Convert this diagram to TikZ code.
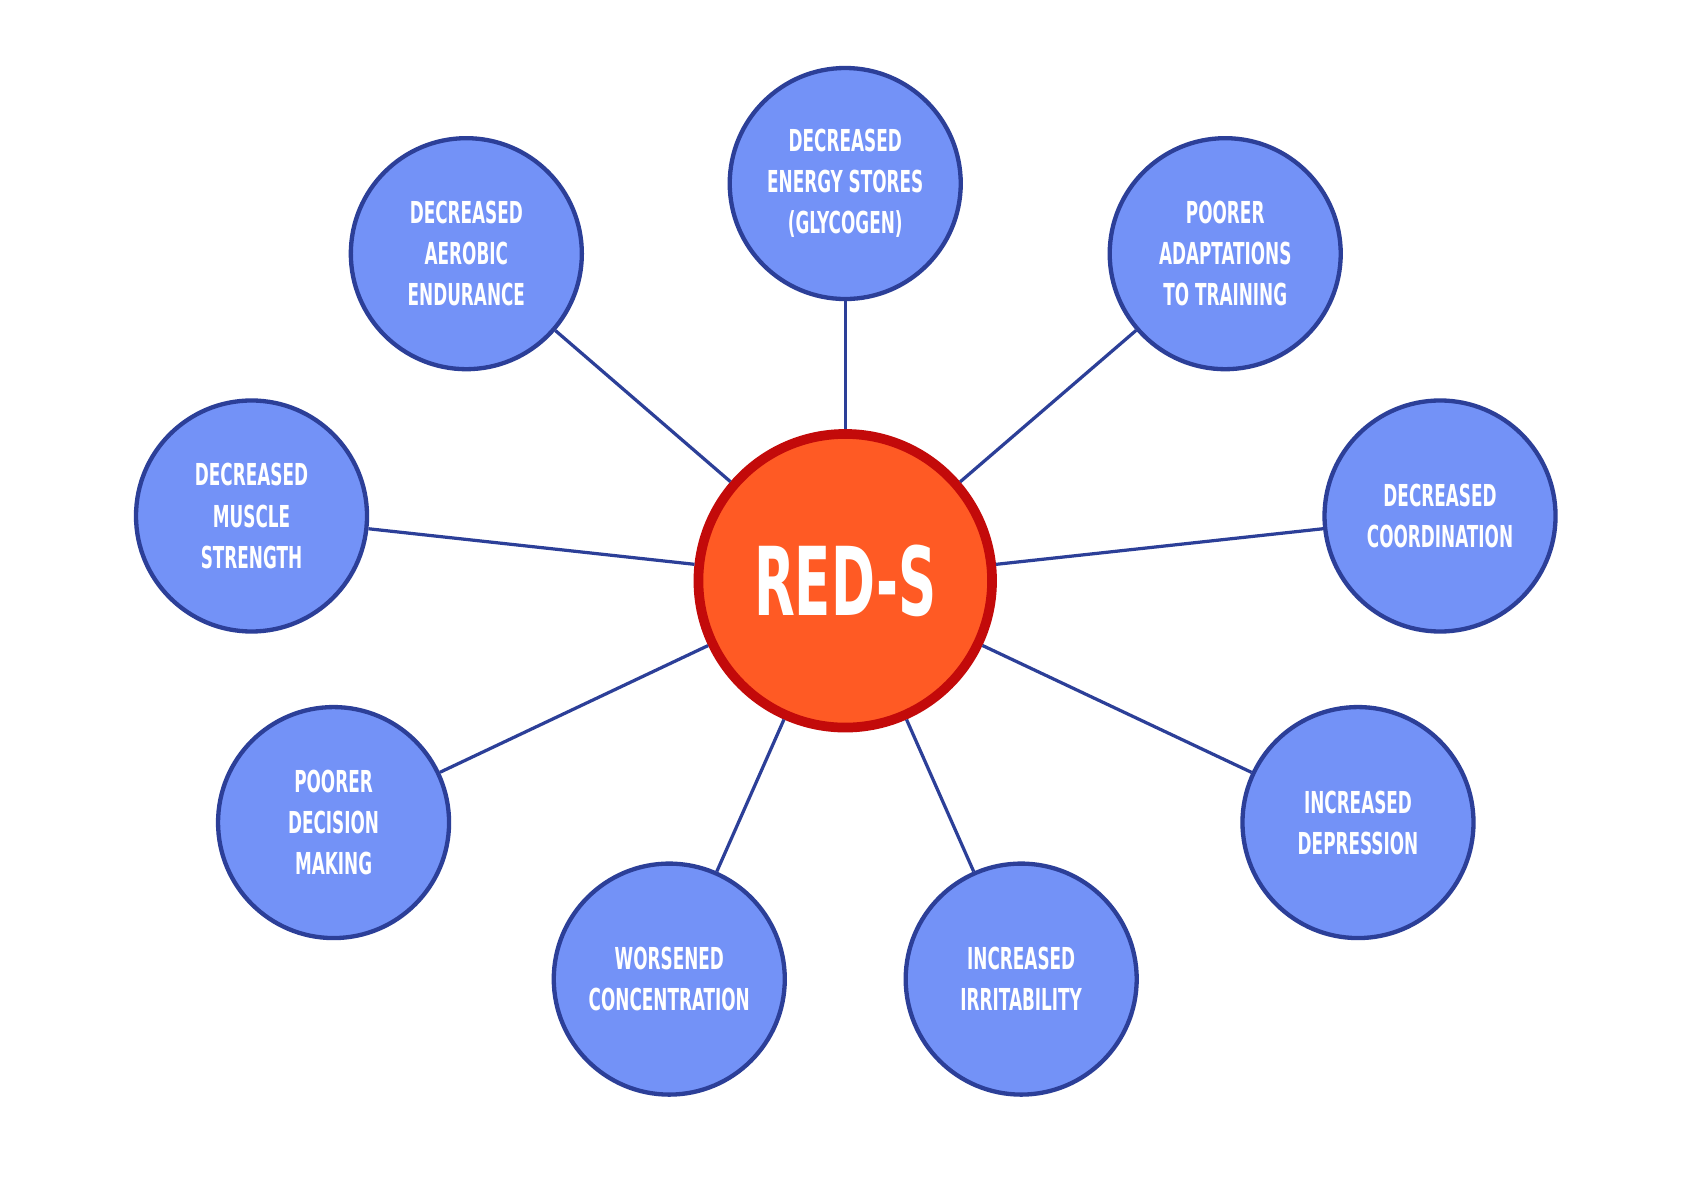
\documentclass[tikz,border=0pt]{standalone}
\usepackage{fontspec}
\newfontfamily\condfont[FakeStretch=0.62]{DejaVu Sans Condensed Bold}
\definecolor{bubblefill}{HTML}{7392F7}
\definecolor{bubbleline}{HTML}{2C3F98}
\definecolor{hubfill}{HTML}{FF5A24}
\definecolor{hubline}{HTML}{C30A0A}
\tikzset{
  effect/.style={circle, draw=bubbleline, line width=2pt, fill=bubblefill,
    minimum size=107pt, inner sep=0pt, text=white, align=center,
    font=\condfont\fontsize{14}{19}\selectfont},
  hub/.style={circle, draw=hubline, line width=4.5pt, fill=hubfill,
    minimum size=136pt, inner sep=0pt, text=white,
    font=\condfont\fontsize{44}{44}\selectfont},
  spoke/.style={draw=bubbleline, line width=1.5pt}
}
\begin{document}
\begin{tikzpicture}[x=0.5pt,y=-0.5pt]
  \useasboundingbox[fill=white] (0,0) rectangle (1560,1103);
  \node[effect] (energy) at (783,170) {DECREASED\\ENERGY STORES\\(GLYCOGEN)};
  \node[effect] (aerobic) at (432,235) {DECREASED\\AEROBIC\\ENDURANCE};
  \node[effect] (adapt) at (1135,235) {POORER\\ADAPTATIONS\\TO TRAINING};
  \node[effect] (muscle) at (233,478) {DECREASED\\MUSCLE\\STRENGTH};
  \node[effect] (coord) at (1334,478) {DECREASED\\COORDINATION};
  \node[effect] (decision) at (309,762) {POORER\\DECISION\\MAKING};
  \node[effect] (depress) at (1258,762) {INCREASED\\DEPRESSION};
  \node[effect] (concen) at (620,907) {WORSENED\\CONCENTRATION};
  \node[effect] (irrit) at (946,907) {INCREASED\\IRRITABILITY};
  \node[hub] (reds) at (783,538) {RED-S};
  % spokes behind the circles
  \begin{scope}[on background layer/.style={}]
  \end{scope}
  \foreach \n in {energy,aerobic,adapt,muscle,coord,decision,depress,concen,irrit}
    \draw[spoke] (reds) -- (\n);
\end{tikzpicture}
\end{document}
